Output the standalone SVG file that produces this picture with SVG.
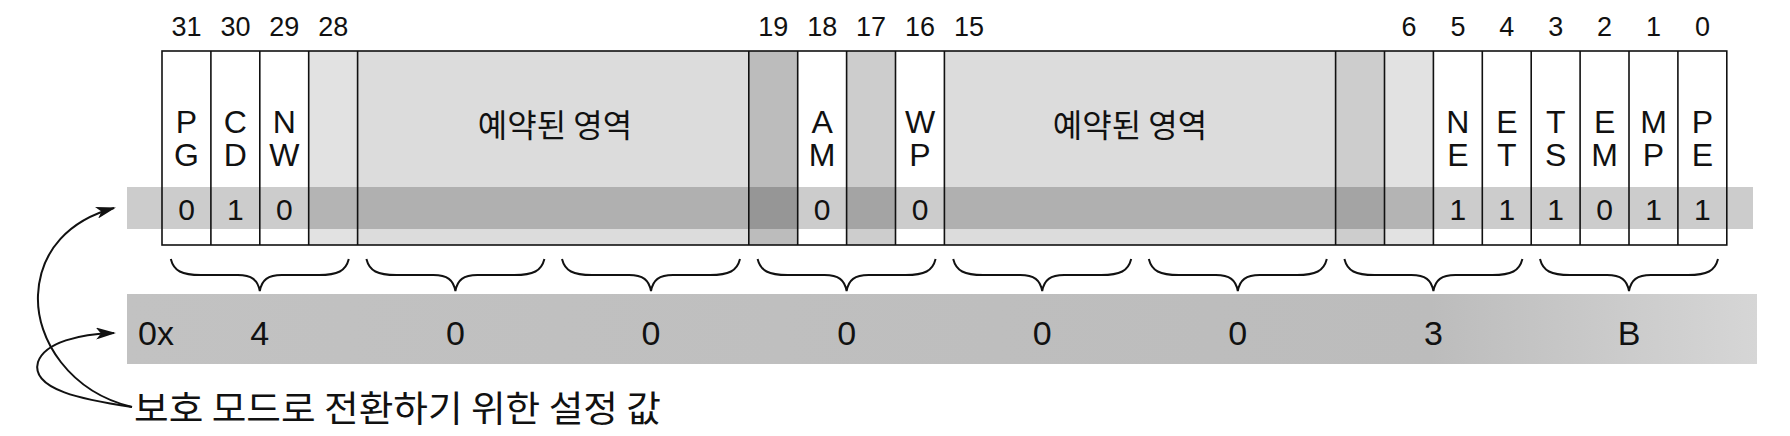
<svg xmlns="http://www.w3.org/2000/svg" width="1790" height="436" viewBox="0 0 1790 436">
  <defs>
    <style>
      .num { font-family: "Liberation Sans", Arial, sans-serif; font-size: 27px; fill: #111; text-anchor: middle; }
      .lbl { font-family: "Liberation Sans", Arial, sans-serif; font-size: 32px; fill: #111; text-anchor: middle; }
      .bit { font-family: "Liberation Sans", Arial, sans-serif; font-size: 30px; fill: #111; text-anchor: middle; }
      .hex { font-family: "Liberation Sans", Arial, sans-serif; font-size: 34px; fill: #111; text-anchor: middle; }
      .kr { font-family: "Noto Sans CJK KR", "Liberation Sans", sans-serif; font-size: 32px; fill: #111; text-anchor: middle; }
      .krb { font-family: "Noto Sans CJK KR", "Liberation Sans", sans-serif; font-size: 36px; fill: #111; }
      .res { fill: #dcdcdc; }
      .dark { fill: #bcbcbc; }
      .mid { fill: #cdcdcd; }
      .light { fill: #e2e2e2; }
      .white { fill: #ffffff; }
      .line { stroke: #111; stroke-width: 1.6; fill: none; }
      .brace { stroke: #111; stroke-width: 2; fill: none; }
      .arrow { stroke: #111; stroke-width: 2; fill: none; marker-end: url(#ah); }
    </style>
    <linearGradient id="band2g" x1="0" y1="0" x2="1" y2="0">
      <stop offset="0" stop-color="#c2c2c2"/>
      <stop offset="0.8" stop-color="#bcbcbc"/>
      <stop offset="1" stop-color="#d6d6d6"/>
    </linearGradient>
    <marker id="ah" viewBox="0 0 20 12" refX="18" refY="6" markerWidth="20" markerHeight="12" markerUnits="userSpaceOnUse" orient="auto">
      <path d="M0,0 L20,6 L0,12 L5,6 z" fill="#111"/>
    </marker>
    <path id="br" d="M0,259 C3,271 11,275 30,275 L67,275 C81,275 87,280 89,291 C91,280 97,275 111,275 L148,275 C167,275 175,271 178,259" class="brace"/>
  </defs>

  <!-- bit number labels -->
  <g id="bitnumbers">
    <text class="num" x="186.5" y="36">31</text>
    <text class="num" x="235.4" y="36">30</text>
    <text class="num" x="284.3" y="36">29</text>
    <text class="num" x="333.2" y="36">28</text>
    <text class="num" x="773.3" y="36">19</text>
    <text class="num" x="822.2" y="36">18</text>
    <text class="num" x="871.1" y="36">17</text>
    <text class="num" x="920" y="36">16</text>
    <text class="num" x="968.9" y="36">15</text>
    <text class="num" x="1409" y="36">6</text>
    <text class="num" x="1457.9" y="36">5</text>
    <text class="num" x="1506.8" y="36">4</text>
    <text class="num" x="1555.7" y="36">3</text>
    <text class="num" x="1604.6" y="36">2</text>
    <text class="num" x="1653.5" y="36">1</text>
    <text class="num" x="1702.4" y="36">0</text>
  </g>

  <!-- column backgrounds -->
  <g id="register">
    <rect x="162" y="51" width="1564.8" height="194" class="white"/>
    <rect x="308.7" y="51" width="48.9" height="194" class="light"/>
    <rect x="357.6" y="51" width="391.2" height="194" class="res"/>
    <rect x="748.8" y="51" width="48.9" height="194" class="dark"/>
    <rect x="846.6" y="51" width="48.9" height="194" class="mid"/>
    <rect x="944.4" y="51" width="391.2" height="194" class="res"/>
    <rect x="1335.6" y="51" width="48.9" height="194" class="mid"/>
    <rect x="1384.5" y="51" width="48.9" height="194" class="light"/>
  </g>

  <!-- value band (overlay) -->
  <g id="binary-band">
    <rect x="127" y="187" width="1626" height="42" fill="#000" fill-opacity="0.2"/>
  </g>

  <!-- hex band -->
  <g id="hex-band">
    <rect x="127" y="294" width="1630" height="70" fill="url(#band2g)"/>
    <text class="hex" x="156" y="345">0x</text>
    <text class="hex" x="259.8" y="345">4</text>
    <text class="hex" x="455.4" y="345">0</text>
    <text class="hex" x="651" y="345">0</text>
    <text class="hex" x="846.6" y="345">0</text>
    <text class="hex" x="1042.2" y="345">0</text>
    <text class="hex" x="1237.8" y="345">0</text>
    <text class="hex" x="1433.4" y="345">3</text>
    <text class="hex" x="1629" y="345">B</text>
  </g>

  <!-- column lines and frame -->
  <g id="frame">
    <rect x="162" y="51" width="1564.8" height="194" class="line"/>
    <path class="line" d="M210.9,51V245 M259.8,51V245 M308.7,51V245 M357.6,51V245 M748.8,51V245 M797.7,51V245 M846.6,51V245 M895.5,51V245 M944.4,51V245 M1335.6,51V245 M1384.5,51V245 M1433.4,51V245 M1482.3,51V245 M1531.2,51V245 M1580.1,51V245 M1629,51V245 M1677.9,51V245"/>
  </g>

  <g id="PG"><text class="lbl" x="186.5" y="133">P</text><text class="lbl" x="186.5" y="166">G</text><text class="bit" x="186.5" y="220">0</text></g>
  <g id="CD"><text class="lbl" x="235.4" y="133">C</text><text class="lbl" x="235.4" y="166">D</text><text class="bit" x="235.4" y="220">1</text></g>
  <g id="NW"><text class="lbl" x="284.3" y="133">N</text><text class="lbl" x="284.3" y="166">W</text><text class="bit" x="284.3" y="220">0</text></g>
  <g id="reserved1"><text class="kr" x="555" y="137">예약된 영역</text></g>
  <g id="AM"><text class="lbl" x="822.2" y="133">A</text><text class="lbl" x="822.2" y="166">M</text><text class="bit" x="822.2" y="220">0</text></g>
  <g id="WP"><text class="lbl" x="920" y="133">W</text><text class="lbl" x="920" y="166">P</text><text class="bit" x="920" y="220">0</text></g>
  <g id="reserved2"><text class="kr" x="1130" y="137">예약된 영역</text></g>
  <g id="NE"><text class="lbl" x="1457.9" y="133">N</text><text class="lbl" x="1457.9" y="166">E</text><text class="bit" x="1457.9" y="220">1</text></g>
  <g id="ET"><text class="lbl" x="1506.8" y="133">E</text><text class="lbl" x="1506.8" y="166">T</text><text class="bit" x="1506.8" y="220">1</text></g>
  <g id="TS"><text class="lbl" x="1555.7" y="133">T</text><text class="lbl" x="1555.7" y="166">S</text><text class="bit" x="1555.7" y="220">1</text></g>
  <g id="EM"><text class="lbl" x="1604.6" y="133">E</text><text class="lbl" x="1604.6" y="166">M</text><text class="bit" x="1604.6" y="220">0</text></g>
  <g id="MP"><text class="lbl" x="1653.5" y="133">M</text><text class="lbl" x="1653.5" y="166">P</text><text class="bit" x="1653.5" y="220">1</text></g>
  <g id="PE"><text class="lbl" x="1702.4" y="133">P</text><text class="lbl" x="1702.4" y="166">E</text><text class="bit" x="1702.4" y="220">1</text></g>

  <g id="caption"><text class="krb" x="134" y="422" textLength="527" lengthAdjust="spacingAndGlyphs">보호 모드로 전환하기 위한 설정 값</text></g>

  <!-- connectors -->
  <g id="connectors">
    <use href="#br" x="170.8" y="0"/>
    <use href="#br" x="366.4" y="0"/>
    <use href="#br" x="562" y="0"/>
    <use href="#br" x="757.6" y="0"/>
    <use href="#br" x="953.2" y="0"/>
    <use href="#br" x="1148.8" y="0"/>
    <use href="#br" x="1344.4" y="0"/>
    <use href="#br" x="1540" y="0"/>
    <path class="arrow" d="M132,407 C70,392 36,340 38,295 C40,250 70,220 114,208"/>
    <path class="arrow" d="M132,407 C85,400 30,390 38,362 C45,342 80,334 114,333"/>
  </g>
</svg>
